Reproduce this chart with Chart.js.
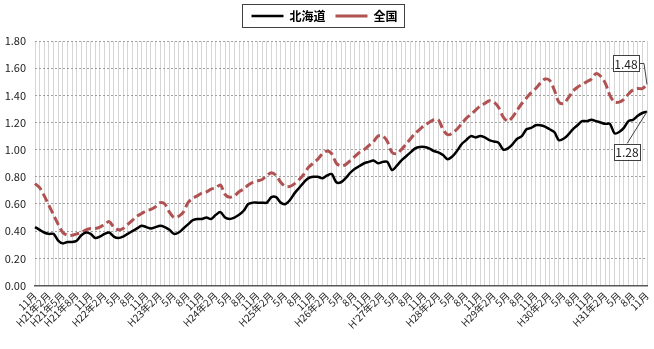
<!DOCTYPE html>
<html>
<head>
<meta charset="utf-8">
<script src="https://cdn.jsdelivr.net/npm/chart.js@4"></script>
<style>
  html, body { margin: 0; padding: 0; background: #fff; }
  #wrap { width: 654px; height: 349px; }
</style>
</head>
<body>
<div id="wrap"><canvas id="jobChart" width="654" height="349"></canvas></div>
<script>
// tick labels, one per quarter (H20.11 -> H31.11)
const tickLabels = [
  "11月", "H21年2月", "H21年5月", "H21年8月",
  "11月", "H22年2月", "5月", "8月",
  "11月", "H23年2月", "5月", "8月",
  "11月", "H24年2月", "5月", "8月",
  "11月", "H25年2月", "5月", "8月",
  "11月", "H26年2月", "5月", "8月",
  "11月", "H'27年2月", "5月", "8月",
  "11月", "H28年2月", "5月", "8月",
  "11月", "H29年2月", "5月", "8月",
  "11月", "H30年2月", "5月", "8月",
  "11月", "H31年2月", "5月", "8月", "11月"
];

// monthly values, H20.11 .. H31.11
const hokkaido = [
  0.43, 0.41, 0.39, 0.38, 0.38, 0.33, 0.31, 0.32, 0.32, 0.33, 0.37, 0.39,
  0.38, 0.35, 0.36, 0.38, 0.39, 0.36, 0.35, 0.36, 0.38, 0.40, 0.42, 0.44,
  0.43, 0.42, 0.43, 0.44, 0.43, 0.41, 0.38, 0.39, 0.42, 0.45, 0.48, 0.49,
  0.49, 0.50, 0.49, 0.52, 0.54, 0.50, 0.49, 0.50, 0.52, 0.55, 0.60, 0.61,
  0.61, 0.61, 0.61, 0.65, 0.65, 0.61, 0.60, 0.63, 0.68, 0.72, 0.76, 0.79,
  0.80, 0.80, 0.79, 0.81, 0.82, 0.76, 0.76, 0.79, 0.83, 0.86, 0.88, 0.90,
  0.91, 0.92, 0.90, 0.91, 0.91, 0.85, 0.88, 0.92, 0.95, 0.98, 1.01, 1.02,
  1.02, 1.01, 0.99, 0.98, 0.96, 0.93, 0.95, 0.99, 1.04, 1.07, 1.10, 1.09,
  1.10, 1.09, 1.07, 1.06, 1.05, 1.00, 1.01, 1.04, 1.08, 1.10, 1.15, 1.16,
  1.18, 1.18, 1.17, 1.15, 1.13, 1.07, 1.08, 1.11, 1.15, 1.18, 1.21, 1.21,
  1.22, 1.21, 1.20, 1.19, 1.19, 1.12, 1.13, 1.16, 1.21, 1.22, 1.25, 1.27,
  1.28
];

const zenkoku = [
  0.75, 0.72, 0.66, 0.59, 0.52, 0.45, 0.39, 0.37, 0.37, 0.38, 0.39, 0.41,
  0.42, 0.42, 0.43, 0.45, 0.47, 0.43, 0.41, 0.42, 0.45, 0.48, 0.51, 0.53,
  0.55, 0.56, 0.58, 0.61, 0.60, 0.54, 0.50, 0.51, 0.54, 0.61, 0.64, 0.66,
  0.68, 0.69, 0.71, 0.72, 0.74, 0.67, 0.65, 0.66, 0.69, 0.71, 0.74, 0.76,
  0.77, 0.78, 0.81, 0.83, 0.81, 0.76, 0.73, 0.73, 0.75, 0.78, 0.82, 0.87,
  0.90, 0.93, 0.97, 0.99, 0.97, 0.90, 0.88, 0.89, 0.92, 0.95, 0.98, 1.00,
  1.03, 1.06, 1.10, 1.10, 1.06, 0.98, 0.97, 1.00, 1.04, 1.08, 1.12, 1.15,
  1.18, 1.20, 1.22, 1.22, 1.15, 1.11, 1.12, 1.15, 1.19, 1.23, 1.26, 1.29,
  1.32, 1.34, 1.36, 1.35, 1.31, 1.24, 1.21, 1.24, 1.29, 1.34, 1.38, 1.42,
  1.45, 1.49, 1.52, 1.51, 1.44, 1.35, 1.34, 1.38, 1.43, 1.46, 1.48, 1.50,
  1.52, 1.56, 1.54, 1.49, 1.40, 1.35, 1.35, 1.37, 1.41, 1.44, 1.45, 1.45,
  1.48
];

const months = hokkaido.map((v, i) => i);

const FONT = "'Noto Sans CJK JP', 'Noto Sans', sans-serif";

// leave a bit more room under the legend
const legendSpace = {
  id: "legendSpace",
  afterInit(chart) {
    const lg = chart.legend;
    if (!lg) return;
    const fit = lg.fit;
    lg.fit = function () {
      fit.call(this);
      this.height += 9;
    };
  }
};

// box round the legend, like the Excel original
const legendBorder = {
  id: "legendBorder",
  afterDraw(chart) {
    const lg = chart.legend;
    if (!lg || !lg.legendHitBoxes.length) return;
    const first = lg.legendHitBoxes[0];
    const last = lg.legendHitBoxes[lg.legendHitBoxes.length - 1];
    const ctx = chart.ctx;
    ctx.save();
    ctx.strokeStyle = "#404040";
    ctx.lineWidth = 1;
    const x0 = Math.round(first.left - 9) + 0.5;
    const y0 = Math.round(first.top - 6) + 0.5;
    ctx.strokeRect(x0, y0, Math.round(last.left + last.width - first.left + 16), Math.round(first.height + 11));
    ctx.restore();
  }
};

// callouts for the latest values
const endLabels = {
  id: "endLabels",
  afterDatasetsDraw(chart) {
    const ctx = chart.ctx;
    ctx.save();
    ctx.font = "12px " + FONT;
    ctx.textAlign = "center";
    ctx.textBaseline = "middle";
    ctx.strokeStyle = "#404040";
    ctx.lineWidth = 1;
    const callout = (dsIndex, dx, dy, kind) => {
      const meta = chart.getDatasetMeta(dsIndex);
      const pt = meta.data[meta.data.length - 1];
      const val = chart.data.datasets[dsIndex].data[meta.data.length - 1].toFixed(2);
      const w = 26, h = 16;
      const bx = pt.x + dx, by = pt.y + dy;
      ctx.beginPath();
      if (kind === "side") {
        ctx.moveTo(bx + w, by + h / 2);
        ctx.lineTo(pt.x - 3, by + h / 2);
        ctx.lineTo(pt.x, pt.y);
      } else {
        ctx.moveTo(bx + w / 2, by);
        ctx.lineTo(pt.x, pt.y);
      }
      ctx.stroke();
      ctx.fillStyle = "#fff";
      ctx.fillRect(bx, by, w, h);
      ctx.strokeRect(Math.round(bx) + 0.5, Math.round(by) + 0.5, w, h);
      ctx.fillStyle = "#222";
      ctx.fillText(val, bx + w / 2, by + h / 2 + 1);
    };
    callout(1, -34, -29, "side");
    callout(0, -33, 32, "below");
    ctx.restore();
  }
};

new Chart(document.getElementById("jobChart"), {
  type: "line",
  data: {
    labels: months,
    datasets: [
      {
        label: "北海道",
        data: hokkaido,
        borderColor: "#000000",
        borderWidth: 2.5,
        pointRadius: 0,
        tension: 0.3,
        fill: false
      },
      {
        label: "全国",
        data: zenkoku,
        borderColor: "#b05252",
        borderWidth: 3,
        borderDash: [9, 4],
        pointRadius: 0,
        tension: 0.3,
        fill: false
      }
    ]
  },
  options: {
    responsive: false,
    animation: false,
    layout: { padding: { left: 2, right: 7, top: 0, bottom: 14 } },
    plugins: {
      legend: {
        position: "top",
        labels: {
          usePointStyle: true,
          pointStyle: "line",
          pointStyleWidth: 32,
          padding: 10,
          color: "#000",
          font: { family: FONT, size: 12, weight: "bold" }
        }
      },
      tooltip: { enabled: false }
    },
    scales: {
      x: {
        offset: false,
        afterFit: function (scale) { scale.paddingRight = 0; },
        grid: { color: "#d6d6d6", lineWidth: 1, drawTicks: false },
        border: { color: "#595959", width: 1.5 },
        ticks: {
          autoSkip: false,
          maxRotation: 45,
          minRotation: 45,
          padding: 4,
          color: "#222",
          font: { family: FONT, size: 10 },
          callback: function (value, index) {
            return index % 3 === 0 ? tickLabels[index / 3] : "";
          }
        }
      },
      y: {
        min: 0,
        max: 1.8,
        afterFit: function (scale) { scale.width = 33; },
        grid: { color: "#a0a0a0", lineWidth: 1, drawTicks: false },
        border: { display: false, dash: [2, 2] },
        ticks: {
          stepSize: 0.2,
          padding: 9,
          color: "#222",
          font: { family: FONT, size: 11 },
          callback: function (value) {
            return value.toFixed(2);
          }
        }
      }
    }
  },
  plugins: [legendSpace, legendBorder, endLabels]
});
</script>
</body>
</html>
